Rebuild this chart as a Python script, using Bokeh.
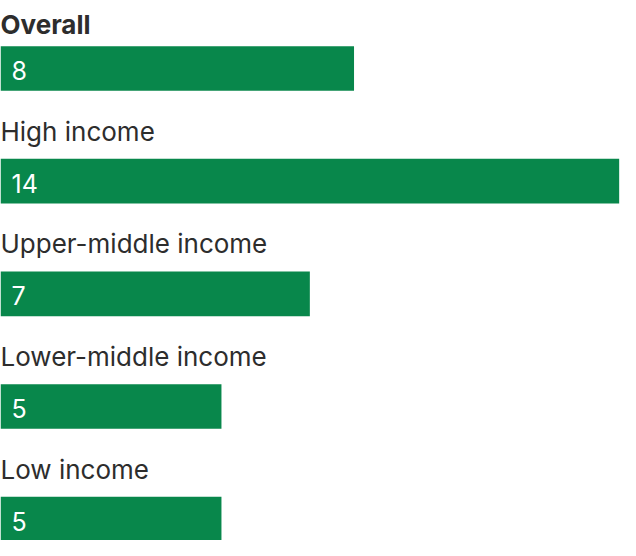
from bokeh.plotting import figure
from bokeh.models import ColumnDataSource, Range1d
from bokeh.core.properties import value
from bokeh.embed import file_html
from bokeh.resources import INLINE

# data
groups = ["Overall", "High income", "Upper-middle income", "Lower-middle income", "Low income"]
values = [8, 14, 7, 5, 5]
styles = ["bold", "normal", "normal", "normal", "normal"]

bar_color = "#08874b"
text_color = "#2d2d2d"
font = "Inter"

# layout, in units of the original 636x556 picture (y runs downwards)
step = 116
first_bar_top = 47
bar_h = 46
label_gap = [22, 28.5, 28.5, 28.5, 28.5]   # label centre above the bar top

bar_top = [first_bar_top + step * i for i in range(len(groups))]
source = ColumnDataSource(data=dict(
    group=groups,
    val=values,
    label=[str(v) for v in values],
    style=styles,
    mid=[t + bar_h / 2 for t in bar_top],
    label_y=[t - g for t, g in zip(bar_top, label_gap)],
    val_y=[t + 25 for t in bar_top],
))

p = figure(width=620, height=540, x_range=Range1d(0, 14.03), y_range=Range1d(556, 0),
           toolbar_location=None, tools="", output_backend="svg", min_border=0)
p.axis.visible = False
p.grid.visible = False
p.outline_line_color = None
p.background_fill_color = "white"

p.hbar(y="mid", left=0, right="val", height=bar_h, source=source,
       fill_color=bar_color, line_color=None)

p.text(x=0, y="label_y", text="group", source=source, x_offset=0,
       text_font=value(font), text_font_size="26px", text_font_style="style",
       text_color=text_color, text_baseline="middle", text_align="left")

p.text(x=0, y="val_y", text="label", source=source, x_offset=11,
       text_font=value(font), text_font_size="25px",
       text_color="white", text_baseline="middle", text_align="left")

open("out.html", "w").write(file_html(p, INLINE))
